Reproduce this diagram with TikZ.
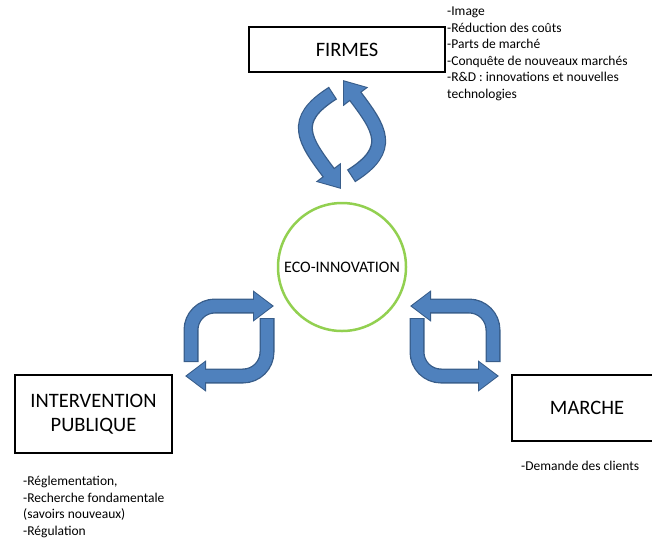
\documentclass[tikz,border=0pt]{standalone}
\usepackage{fontspec}
\setmainfont{Carlito}
\usetikzlibrary{arrows.meta}
\definecolor{arrowfill}{HTML}{4F81BD}
\definecolor{arrowline}{HTML}{385D8A}
\definecolor{ecogreen}{HTML}{92D050}
\newcommand{\bigtxt}{\fontsize{20.5}{24}\selectfont}
\newcommand{\listtxt}{\fontsize{13.5}{16.5}\selectfont}

\begin{document}
\begin{tikzpicture}[x=1pt,y=-1pt,
    actor/.style={draw,line width=2pt,inner sep=0pt,align=center,font=\bigtxt},
    notes/.style={inner sep=0pt,align=left,font=\listtxt},
    cyclearrow/.style={draw=arrowline,line width=15pt,-{Triangle[width=30pt,length=21pt]},
      postaction={draw=arrowfill,line width=12.4pt,shorten >=1.8pt,shorten <=1.2pt,
        -{Triangle[width=26pt,length=18pt]}}}]
  \clip (0,0) rectangle (652,539);

  \node[actor,minimum width=196pt,minimum height=45pt] (firmes) at (347,49.5) {FIRMES};
  \node[actor,minimum width=157pt,minimum height=78pt] (etat) at (93.5,414) {INTERVENTION\\PUBLIQUE};
  \node[actor,minimum width=150pt,minimum height=66pt] (marche) at (587,408) {MARCHE};
  \node[circle,draw=ecogreen,line width=2.5pt,minimum size=128pt,inner sep=0pt,
        font=\fontsize{16}{19}\selectfont] (eco) at (342,267) {ECO-INNOVATION};

  % listes d'enjeux
  \node[notes,anchor=north west] (firmesnotes) at (447,7) {-Image\\-Réduction des coûts\\-Parts de marché\\-Conquête de nouveaux marchés\\-R\&D : innovations et nouvelles\\technologies};
  \node[notes,anchor=north west] (etatnotes) at (23,476) {-Réglementation,\\-Recherche fondamentale\\(savoirs nouveaux)\\-Régulation};
  \node[notes,anchor=base west] (marchenotes) at (521,470) {-Demande des clients};

  % cycles
  \draw[cyclearrow] (333,93) .. controls (290,120) and (304,140) .. (341,189);
  \draw[cyclearrow] (351,176) .. controls (394,149) and (380,129) .. (343,80);
  \draw[cyclearrow,rounded corners=24pt] (191,362) |- (274,306);
  \draw[cyclearrow,rounded corners=24pt] (267,318) |- (185,376);
  \draw[cyclearrow,rounded corners=24pt] (493,362) |- (410,306);
  \draw[cyclearrow,rounded corners=24pt] (417,318) |- (499,376);
\end{tikzpicture}
\end{document}
